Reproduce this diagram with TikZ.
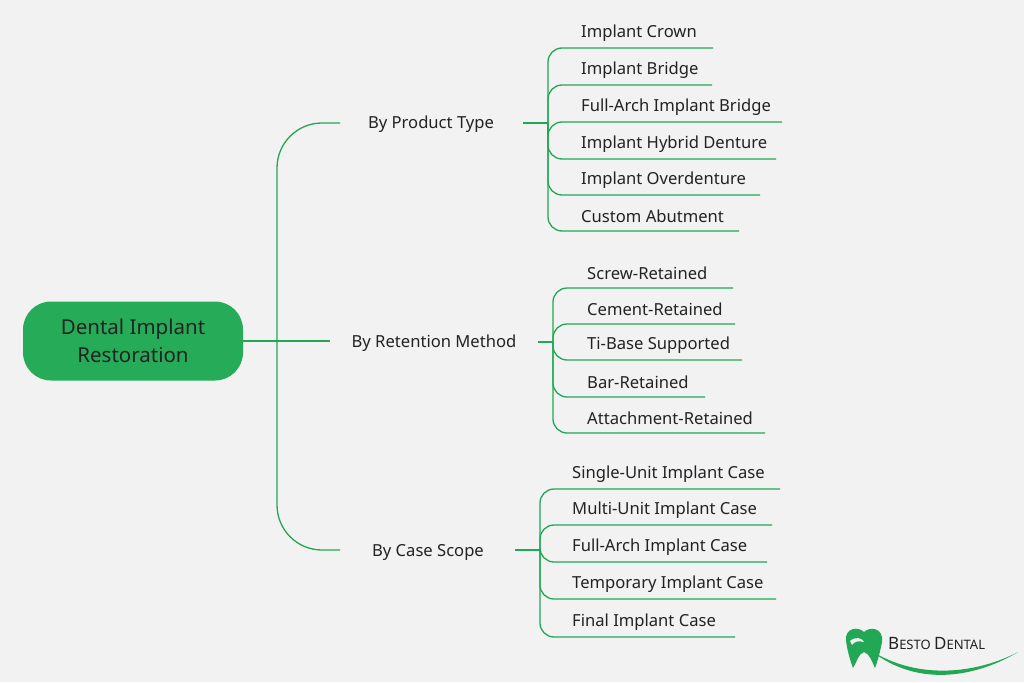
\documentclass[tikz,border=0pt]{standalone}
\usepackage{fontspec}
\setmainfont{Noto Sans}
\definecolor{mapgreen}{RGB}{34,168,84}
\definecolor{rootgreen}{RGB}{38,172,88}
\definecolor{bggrey}{RGB}{242,242,242}
\definecolor{txtgrey}{RGB}{34,34,34}
\tikzset{
  link/.style={draw=mapgreen, line width=1.3pt, rounded corners=14pt},
  branch/.style={text=txtgrey, font=\fontsize{16.6}{19}\selectfont},
  leaf/.style={anchor=west, text=txtgrey, font=\fontsize{16.6}{19}\selectfont, inner sep=0pt},
}
\begin{document}
\begin{tikzpicture}[x=1pt, y=-1pt]
  \fill[bggrey] (0,0) rectangle (1024,682);
  \useasboundingbox (0,0) rectangle (1024,682);

  % root
  \node[fill=rootgreen, rounded corners=28pt, minimum width=220pt, minimum height=79pt,
        align=center, text=txtgrey, font=\fontsize{20.5}{28}\selectfont] (root) at (133,341)
        {Dental Implant\\Restoration};
  \coordinate (hub) at (277,341);
  \draw[link] (root.east) -- (hub);

  % branches
  \node[branch] (product) at (431,124) {By Product Type};
  \node[branch] (retention) at (434,343) {By Retention Method};
  \node[branch] (scope) at (428,552) {By Case Scope};
  \draw[link, rounded corners=45pt] (hub) |- (340,123);
  \draw[link] (hub) -- (330,341);
  \draw[link, rounded corners=45pt] (hub) |- (340,550);

  % product type leaves
  \coordinate (pt) at (548,123);
  \draw[link] (523,123) -- (pt);
  \foreach \y/\e/\t [count=\i] in {48/713/Implant Crown, 85/712/Implant Bridge,
      122/782/Full-Arch Implant Bridge, 159/776/Implant Hybrid Denture,
      195/760/Implant Overdenture, 231/739/Custom Abutment} {
    \draw[link, rounded corners=14pt] (pt) |- (\e,\y);
    \node[leaf] (p\i) at (581,\y-15) {\t};
  }

  % retention leaves
  \coordinate (rt) at (553,342);
  \draw[link] (538,342) -- (rt);
  \foreach \y/\e/\t [count=\i] in {288/733/Screw-Retained, 324/735/Cement-Retained,
      360/742/Ti-Base Supported, 397/705/Bar-Retained, 433/765/Attachment-Retained} {
    \draw[link, rounded corners=14pt] (rt) |- (\e,\y);
    \node[leaf] (r\i) at (587,\y-15) {\t};
  }

  % case scope leaves
  \coordinate (cs) at (540,550);
  \draw[link] (515,550) -- (cs);
  \foreach \y/\e/\t [count=\i] in {489/780/Single-Unit Implant Case, 525/772/Multi-Unit Implant Case,
      562/767/Full-Arch Implant Case, 599/776/Temporary Implant Case, 637/735/Final Implant Case} {
    \draw[link, rounded corners=14pt] (cs) |- (\e,\y);
    \node[leaf] (c\i) at (572,\y-15) {\t};
  }

  % logo
  \fill[mapgreen] (846,640) .. controls (845,628) and (858,626) .. (864,632)
    .. controls (870,626) and (884,628) .. (882,642)
    .. controls (880,652) and (878,660) .. (875,668)
    .. controls (872,662) and (870,654) .. (864,652)
    .. controls (858,654) and (857,662) .. (853,668)
    .. controls (850,660) and (847,650) .. (846,640) -- cycle;
  \fill[bggrey] (850,641) .. controls (856,636) and (862,638) .. (864,642)
    .. controls (858,640) and (854,642) .. (852,645) -- cycle;
  \fill[mapgreen] (870,650) .. controls (920,690) and (980,675) .. (1018,652)
    .. controls (980,672) and (920,682) .. (870,650) -- cycle;
  \node[anchor=west, text=txtgrey, font=\bfseries, inner sep=0pt] (logo) at (888,643)
    {{\fontsize{17}{20}\selectfont\bfseries B}{\fontsize{13}{16}\selectfont\bfseries ESTO }{\fontsize{17}{20}\selectfont\bfseries D}{\fontsize{13}{16}\selectfont\bfseries ENTAL}};
\end{tikzpicture}
\end{document}
